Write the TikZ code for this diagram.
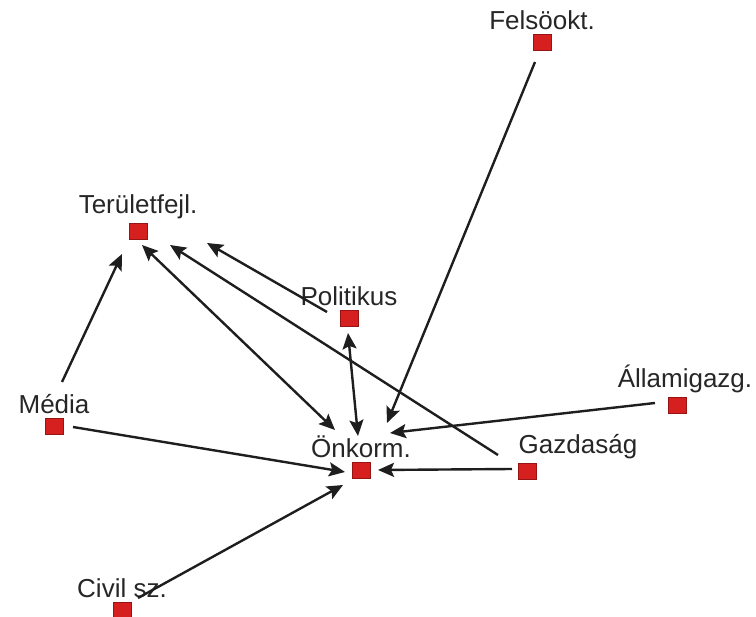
\documentclass[tikz,border=0pt]{standalone}
\usepackage{fontspec}
\setmainfont{Liberation Sans}
\usetikzlibrary{arrows.meta}
\tikzstyle{actor} = [rectangle, draw={rgb,255:red,150;green,20;blue,20}, fill={rgb,255:red,214;green,32;blue,32}, line width=0.6pt, inner sep=0pt, minimum width=18pt, minimum height=16pt, label distance=3pt]
\tikzstyle{tie} = [line width=2.4pt, draw={rgb,255:red,30;green,30;blue,30}, -{Stealth[length=16pt,width=14pt,inset=3pt]}]
\tikzstyle{bitie} = [tie, {Stealth[length=16pt,width=14pt,inset=3pt]}-{Stealth[length=16pt,width=14pt,inset=3pt]}]

\begin{document}
\begin{tikzpicture}[x=1pt, y=-1pt, every label/.style={font=\fontsize{26}{26}\selectfont, text=black!85}]

        \useasboundingbox (0, 0) rectangle (756, 617);

        \node[actor, label={above:Felsöokt.}] at (542, 42) (Felsookt) {};
        \node[actor, label={above:Területfejl.}] at (138, 231) (Teruletfejl) {};
        \node[actor, label={above:Politikus}] at (349, 318) (Politikus) {};
        \node[actor, label={above:Média}] at (54, 426) (Media) {};
        \node[actor, label={above:Önkorm.}] at (361, 470) (Onkorm) {};
        \node[actor, label={[xshift=8pt]above:Államigazg.}] at (677, 405) (Allamigazg) {};
        \node[actor, label={[xshift=51pt]above:Gazdaság}] at (527, 471) (Gazdasag) {};
        \node[actor, label={above:Civil sz.}] at (122, 610) (Civil) {};

        \draw[tie] ([shift={(8, -44)}]Media.center) -- ([shift={(-16, 23)}]Teruletfejl.center);
        \draw[bitie] ([shift={(4, 14)}]Teruletfejl.center) -- ([shift={(-26, -40)}]Onkorm.center);
        \draw[tie] ([shift={(-29, -16)}]Gazdasag.center) -- ([shift={(32, 14)}]Teruletfejl.center);
        \draw[tie] ([shift={(-22, -6)}]Politikus.center) -- ([shift={(69, 12)}]Teruletfejl.center);
        \draw[bitie] ([shift={(-1, 15)}]Politikus.center) -- ([shift={(-3, -34)}]Onkorm.center);
        \draw[tie] ([shift={(-7, 20)}]Felsookt.center) -- ([shift={(26, -47)}]Onkorm.center);
        \draw[tie] ([shift={(-22, -2)}]Allamigazg.center) -- ([shift={(29, -37)}]Onkorm.center);
        \draw[tie] ([shift={(-15, -2)}]Gazdasag.center) -- ([shift={(17, 0)}]Onkorm.center);
        \draw[tie] ([shift={(19, 1)}]Media.center) -- ([shift={(-16, 2)}]Onkorm.center);
        \draw[tie] ([shift={(16, -12)}]Civil.center) -- ([shift={(-18, 15)}]Onkorm.center);

    \end{tikzpicture}
\end{document}
